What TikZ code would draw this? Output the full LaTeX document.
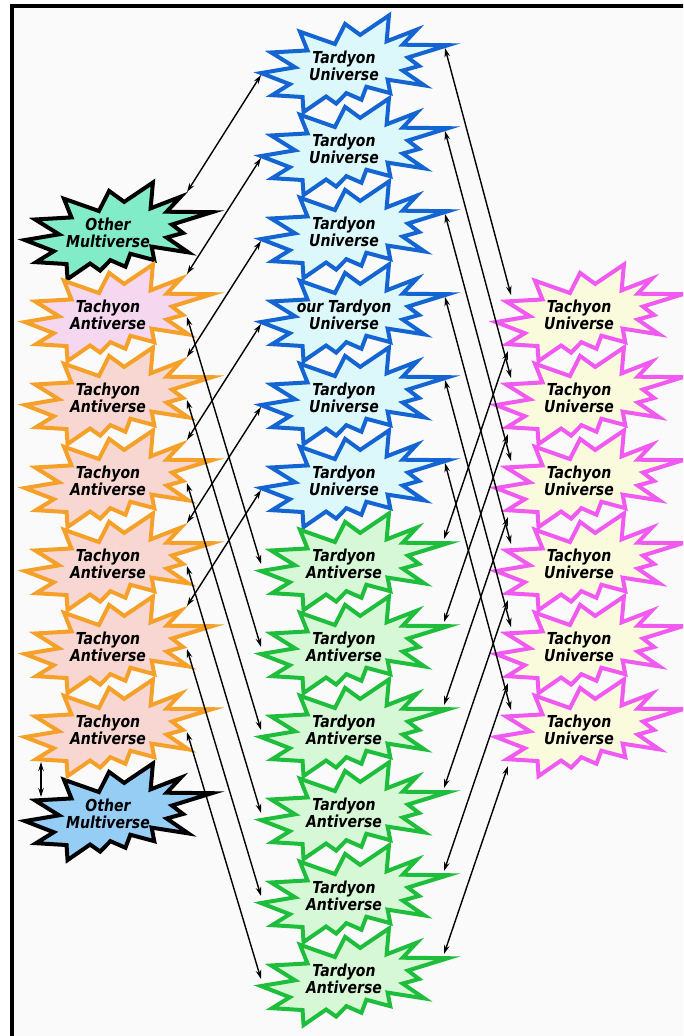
\documentclass[tikz,border=0pt]{standalone}
\usepackage{fontspec}
\newfontfamily\lblfont{DejaVu Sans}[FakeStretch=0.85]
\usetikzlibrary{arrows.meta}
\definecolor{bgc}{RGB}{250,250,250}
\definecolor{tuB}{RGB}{20,100,210}
\definecolor{tuF}{RGB}{220,248,250}
\definecolor{taB}{RGB}{30,190,60}
\definecolor{taF}{RGB}{215,248,215}
\definecolor{cuB}{RGB}{240,90,240}
\definecolor{cuF}{RGB}{250,250,220}
\definecolor{caB}{RGB}{245,160,40}
\definecolor{caF}{RGB}{248,215,210}
\definecolor{caFa}{RGB}{245,215,240}
\definecolor{omG}{RGB}{130,235,200}
\definecolor{omB}{RGB}{150,205,245}
\tikzset{
  lbl/.style={font=\lblfont\bfseries\itshape\fontsize{16.5}{17}\selectfont, align=center, inner sep=0pt, text=black},
  conn/.style={{Stealth[length=9pt,width=5.5pt]}-{Stealth[length=9pt,width=5.5pt]}, line width=1.4pt, black},
  tustar/.style={draw=tuB, fill=tuF, line width=4pt},
  tastar/.style={draw=taB, fill=taF, line width=4pt},
  custar/.style={draw=cuB, fill=cuF, line width=4pt},
  castar/.style={draw=caB, fill=caF, line width=4pt},
  omstar/.style={draw=black, line width=4pt},
  explosion/.pic={
    \begin{scope}[shift={(5pt,-2.5pt)}, x=0.865pt, y=-0.447pt]
      \path[pic actions] (114.64,43.40) -- (97.22,18.87) -- (85.48,63.83) -- (45.03,36.26)
        -- (53.73,78.16) -- (11.74,82.70) -- (39.34,115.92) -- (0,128.75)
        -- (33.29,153.72) -- (12.83,178.24) -- (48.04,182.39) -- (49.18,216)
        -- (75.25,181.25) -- (86.98,197.12) -- (98.71,173.71) -- (116.14,188.44)
        -- (121.78,159.37) -- (149.43,173.71) -- (146.40,143.48) -- (188.78,156.32)
        -- (163.82,123.11) -- (182.70,112.92) -- (169.86,94.04) -- (216,66.46)
        -- (163.82,65.33) -- (180.05,31.72) -- (145.24,57.78) -- (147.89,0) -- cycle;
    \end{scope}
    \begin{scope}[x=1pt,y=-1pt]
      \coordinate (-ur) at (167,12);
      \coordinate (-rm) at (167,55);
      \coordinate (-l) at (5,62);
      \coordinate (-la) at (5,53);
      \coordinate (-ra) at (189,35);
      \coordinate (-rb) at (188,28);
      \coordinate (-lb) at (20,33);
      \coordinate (-lc) at (17,89);
      \node[lbl] (-t) at (88,53) {#1};
    \end{scope}
  }
}
\begin{document}
\begin{tikzpicture}[x=1pt,y=-1pt]
\useasboundingbox (0,0) rectangle (683,1036);
\clip (0,0) rectangle (683,1036);
\fill[white] (0,0) rectangle (683,1036);
\draw[line width=3.5pt, fill=bgc] (12,6) rectangle (720,1070);
% middle column
\pic[tustar] (tu1) at (256,13) {explosion={Tardyon\\Universe}};
\pic[tustar] (tu2) at (256,96) {explosion={Tardyon\\Universe}};
\pic[tustar] (tu3) at (256,179) {explosion={Tardyon\\Universe}};
\pic[tustar] (tu4) at (256,262) {explosion={our Tardyon\\Universe}};
\pic[tustar] (tu5) at (256,345) {explosion={Tardyon\\Universe}};
\pic[tustar] (tu6) at (256,428) {explosion={Tardyon\\Universe}};
\pic[tastar] (tda1) at (256,511) {explosion={Tardyon\\Antiverse}};
\pic[tastar] (tda2) at (256,594) {explosion={Tardyon\\Antiverse}};
\pic[tastar] (tda3) at (256,677) {explosion={Tardyon\\Antiverse}};
\pic[tastar] (tda4) at (256,760) {explosion={Tardyon\\Antiverse}};
\pic[tastar] (tda5) at (256,843) {explosion={Tardyon\\Antiverse}};
\pic[tastar] (tda6) at (256,926) {explosion={Tardyon\\Antiverse}};
% left column
\pic[omstar, fill=omG] (om1) at (20,180) {explosion={Other\\Multiverse}};
\pic[omstar, fill=omB] (om2) at (20,761) {explosion={Other\\Multiverse}};
\pic[castar, fill=caFa] (tca1) at (20,262) {explosion={Tachyon\\Antiverse}};
\pic[castar] (tca2) at (20,345) {explosion={Tachyon\\Antiverse}};
\pic[castar] (tca3) at (20,428) {explosion={Tachyon\\Antiverse}};
\pic[castar] (tca4) at (20,511) {explosion={Tachyon\\Antiverse}};
\pic[castar] (tca5) at (20,594) {explosion={Tachyon\\Antiverse}};
\pic[castar] (tca6) at (20,677) {explosion={Tachyon\\Antiverse}};
% right column
\pic[custar] (tcu1) at (491,262) {explosion={Tachyon\\Universe}};
\pic[custar] (tcu2) at (491,345) {explosion={Tachyon\\Universe}};
\pic[custar] (tcu3) at (491,428) {explosion={Tachyon\\Universe}};
\pic[custar] (tcu4) at (491,511) {explosion={Tachyon\\Universe}};
\pic[custar] (tcu5) at (491,594) {explosion={Tachyon\\Universe}};
\pic[custar] (tcu6) at (491,677) {explosion={Tachyon\\Universe}};
% connectors
\draw[conn] (om1-ur) -- (tu1-l);
\draw[conn] (tca1-ur) -- (tu2-l);
\draw[conn] (tca2-ur) -- (tu3-l);
\draw[conn] (tca3-ur) -- (tu4-l);
\draw[conn] (tca4-ur) -- (tu5-l);
\draw[conn] (tca5-ur) -- (tu6-l);
\foreach \k in {1,...,6}{
  \draw[conn] (tca\k-rm) -- (tda\k-la);
  \draw[conn] (tu\k-ra) -- (tcu\k-lb);
  \draw[conn] (tda\k-rb) -- (tcu\k-lc);
}
\coordinate (v1) at (41,762);
\coordinate (v2) at (41,797);
\draw[conn] (v1) -- (v2);
\end{tikzpicture}
\end{document}
